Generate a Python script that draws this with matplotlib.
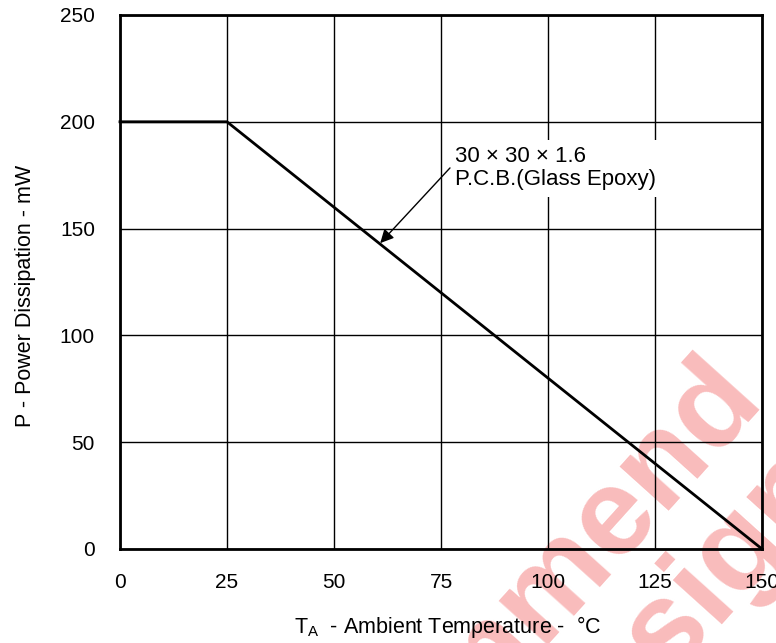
import matplotlib.pyplot as plt

# Derating curve (power dissipation vs ambient temperature)
temp_c = [0, 25, 150]
power_mw = [200, 200, 0]

x_ticks = [0, 25, 50, 75, 100, 125, 150]
y_ticks = [0, 50, 100, 150, 200, 250]

note = '30 × 30 × 1.6\nP.C.B.(Glass Epoxy)'
arrow_tip = (60.8, 143.2)
arrow_tail = (77.1, 178.4)
note_pos = (78.3, 188.5)

plt.rcParams['font.family'] = ['Liberation Sans', 'DejaVu Sans']

fig = plt.figure(figsize=(7.76, 6.43), dpi=100)
ax = fig.add_axes([0.1546, 0.1462, 0.8274, 0.8305])
ax.patch.set_alpha(0)

ax.plot(temp_c, power_mw, color='black', lw=2, zorder=3, clip_on=False)

ax.set_xlim(0, 150)
ax.set_ylim(0, 250)
ax.set_xticks(x_ticks)
ax.set_yticks(y_ticks)
ax.grid(True, color='black', lw=1)
ax.tick_params(length=0, labelsize=15)
ax.tick_params(axis='x', pad=17)
ax.tick_params(axis='y', pad=18)
for s in ax.spines.values():
    s.set_linewidth(2)

ax.set_ylabel('P - Power Dissipation - mW', fontsize=15.5, labelpad=17)
ax.yaxis.label.set_y(0.474)
ax.set_xlabel(r'T$_\mathregular{A}$  - Ambient Temperature -  °C', fontsize=15.5, labelpad=16)
ax.xaxis.label.set_x(0.511)

ax.text(*note_pos, note, fontsize=16, va='top', ha='left', linespacing=1.1,
        bbox=dict(boxstyle='square,pad=0.3', facecolor='white', edgecolor='none'),
        zorder=4)
ax.annotate('', xy=arrow_tip, xytext=arrow_tail,
            arrowprops=dict(arrowstyle='-|>', color='black', lw=1, mutation_scale=20,
                            shrinkA=0, shrinkB=0),
            zorder=5)

# watermark stamp, behind the chart lines
wm = dict(fontsize=90, fontweight='bold', color='#f9bcbc', rotation=48,
          rotation_mode='anchor', ha='right', va='baseline', zorder=-1)
fig.text(0.987, 0.373, 'Not Recommend', **wm)
fig.text(1.085, 0.238, 'for New Design', **wm)

fig.savefig('out.png', dpi=100, facecolor='white')
